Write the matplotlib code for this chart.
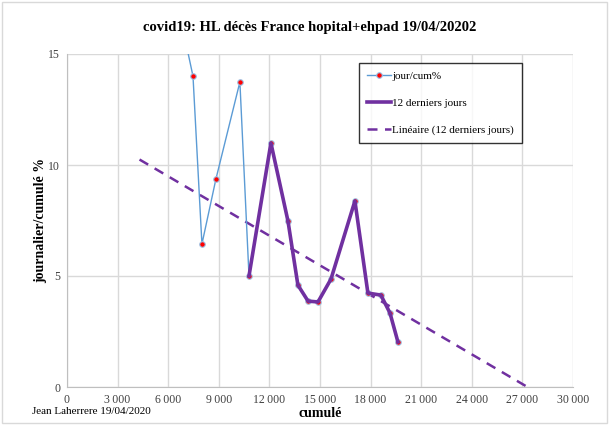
import numpy as np
import matplotlib
matplotlib.use("Agg")
import matplotlib.pyplot as plt
from matplotlib.ticker import FuncFormatter
from matplotlib.patches import Rectangle

plt.rcParams['font.family'] = ['Liberation Serif', 'DejaVu Serif']

# data (cumulated deaths, daily/cumulated %)
cumul = [6600, 7470, 8000, 8830, 10250, 10790, 12090, 13100, 13690, 14290,
         14880, 15650, 17070, 17840, 18610, 19150, 19620]
jour_cum = [17.1, 14.0, 6.44, 9.37, 13.74, 5.0, 10.99, 7.48, 4.59, 3.87,
            3.83, 4.86, 8.38, 4.23, 4.14, 3.33, 2.03]
n_last = 12
trend_start = 4300

title = "covid19: HL décès France hopital+ehpad 19/04/20202"
x_ticks = list(range(0, 30001, 3000))
y_ticks = [0, 5, 10, 15]

fig = plt.figure(figsize=(6.09, 4.25), dpi=100)
ax = fig.add_axes([67 / 609, 1 - 387 / 425, (573 - 67) / 609, (387 - 54) / 425])

x_last = np.array(cumul[-n_last:])
y_last = np.array(jour_cum[-n_last:])

ax.plot(cumul, jour_cum, color='#5B9BD5', lw=1.0, marker='o', ms=4,
        mfc='red', mec='#9DC3E6', mew=0.8, label='jour/cum%', zorder=3)
ax.plot(x_last, y_last, color='#7030A0', lw=2.6, label='12 derniers jours',
        zorder=4, solid_joinstyle='round')

# linear trend of the last 12 days, extended as in the spreadsheet
a, b = np.polyfit(x_last, y_last, 1)
xt = np.array([trend_start, -b / a])
ax.plot(xt, a * xt + b, color='#7030A0', lw=1.8, dashes=(4, 3),
        label='Linéaire (12 derniers jours)', zorder=2)

ax.set_xlim(0, 30000)
ax.set_ylim(0, 15)
ax.set_xticks(x_ticks)
ax.set_yticks(y_ticks)
ax.xaxis.set_major_formatter(FuncFormatter(lambda v, p: f"{int(v):,}".replace(",", "\u2009") if v else "0"))
ax.grid(True, color='#d9d9d9', lw=1)
ax.set_axisbelow(True)
for s in ['top', 'right']:
    ax.spines[s].set_visible(False)
for s in ['left', 'bottom']:
    ax.spines[s].set_color('#bfbfbf')
ax.tick_params(length=0, labelsize=8.5, colors='#404040')
ax.tick_params(axis='x', pad=5)
ax.tick_params(axis='y', pad=5)

ax.set_xlabel('cumulé', fontsize=10, fontweight='bold', labelpad=1)
ax.set_ylabel('journalier/cumulé %', fontsize=10, fontweight='bold')
ax.yaxis.set_label_coords(-0.04, 0.5)
fig.text(310 / 609, 1 - 28 / 425, title, ha='center', va='center',
         fontsize=10.5, fontweight='bold')
fig.text(32 / 609, 1 - 411 / 425, 'Jean Laherrere 19/04/2020', ha='left',
         va='center', fontsize=8)

leg = ax.legend(loc='upper left', bbox_to_anchor=((359 - 67) / 506, (387 - 63) / 333),
                borderaxespad=0, frameon=True, fancybox=False, edgecolor='black',
                fontsize=8, handlelength=2.2, handletextpad=0.1, labelspacing=1.55,
                borderpad=0.7)
leg.get_frame().set_linewidth(1.0)

fig.patches.append(Rectangle((0.004, 0.004), 0.992, 0.992, transform=fig.transFigure,
                             fill=False, edgecolor='#d9d9d9', lw=1))

fig.savefig('out.png', dpi=100)
